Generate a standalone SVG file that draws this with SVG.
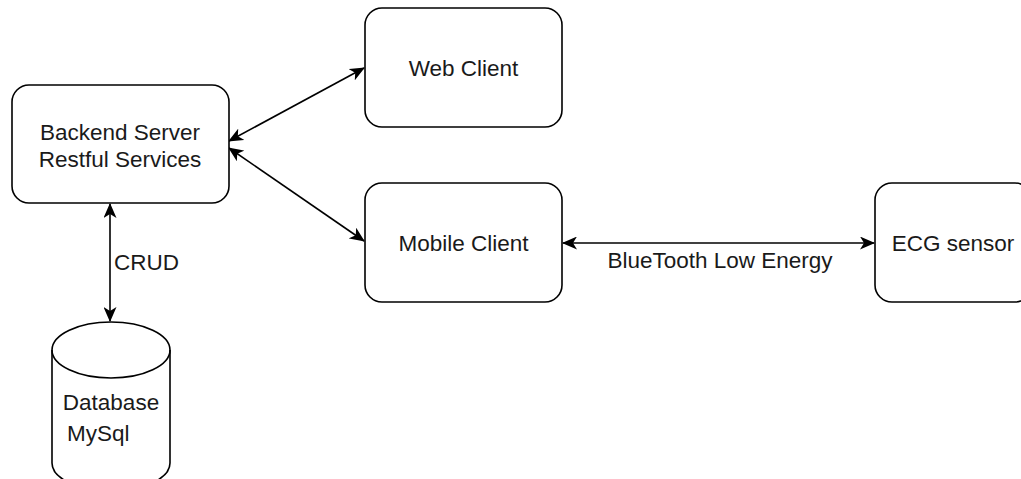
<svg xmlns="http://www.w3.org/2000/svg" width="1021" height="479" viewBox="0 0 1021 479">
<style>
.box{fill:#fff;stroke:#000;stroke-width:1.6}
.t{font-family:"Liberation Sans",Arial,sans-serif;font-size:22.5px;fill:#1a1a1a;text-anchor:middle;dominant-baseline:central}
.edge{stroke:#000;stroke-width:1.6;fill:none;marker-start:url(#arr);marker-end:url(#arr)}
</style>
<defs>
<marker id="arr" viewBox="0 0 15 13" refX="14" refY="6.5" markerWidth="15" markerHeight="13" markerUnits="userSpaceOnUse" orient="auto-start-reverse">
<path d="M0,0 L15,6.5 L0,13 L4,6.5 Z" fill="#000"/>
</marker>
</defs>
<rect width="1021" height="479" fill="#fff"/>
<g id="edges">
<line class="edge" x1="229" y1="141" x2="364" y2="68"/>
<line class="edge" x1="229" y1="148" x2="364" y2="241"/>
<line class="edge" x1="110" y1="204" x2="110" y2="321"/>
<line class="edge" x1="563" y1="243" x2="874" y2="243"/>
<text class="t" x="114" y="262" style="text-anchor:start">CRUD</text>
<text class="t" x="720" y="260">BlueTooth Low Energy</text>
</g>
<g id="backend">
<rect class="box" x="12" y="85" width="217" height="118" rx="17"/>
<text class="t" x="120" y="132">Backend Server</text>
<text class="t" x="120" y="159">Restful Services</text>
</g>
<g id="web">
<rect class="box" x="365" y="8" width="197" height="119" rx="17"/>
<text class="t" x="463.5" y="68">Web Client</text>
</g>
<g id="mobile">
<rect class="box" x="365" y="183" width="197" height="119" rx="17"/>
<text class="t" x="463.5" y="243">Mobile Client</text>
</g>
<g id="ecg">
<rect class="box" x="875" y="183" width="157" height="119" rx="17"/>
<text class="t" x="953" y="243">ECG sensor</text>
</g>
<g id="database">
<path class="box" d="M52,350 A59,28 0 0 1 170,350 L170,463 A59,28 0 0 1 52,463 Z"/>
<path d="M52,350 A59,28 0 0 0 170,350" fill="none" stroke="#000" stroke-width="1.6"/>
<text class="t" x="111" y="402">Database</text>
<text class="t" x="67" y="433" style="text-anchor:start">MySql</text>
</g>
</svg>
